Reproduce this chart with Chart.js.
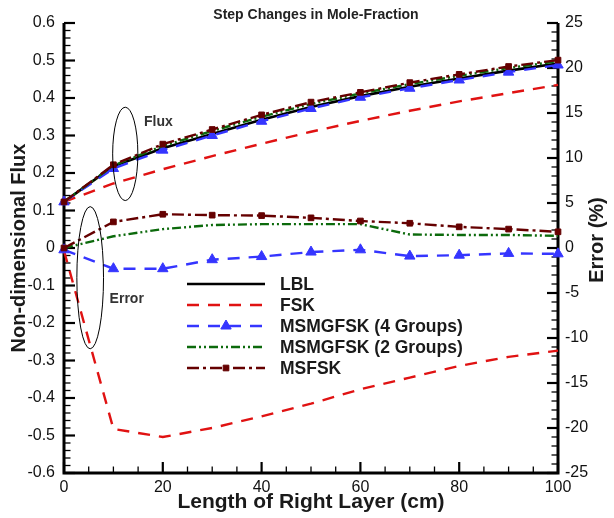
<!DOCTYPE html>
<html>
<head>
<meta charset="utf-8">
<script src="https://cdn.jsdelivr.net/npm/chart.js@4.4.0/dist/chart.umd.min.js"></script>
<style>
html, body { margin: 0; padding: 0; background: #fff; }
canvas { display: block; }
</style>
</head>
<body>
<canvas id="chart" width="614" height="518"></canvas>
<script>
// Data
const lengthCm = [0, 10, 20, 30, 40, 50, 60, 70, 80, 90, 100];

// Non-dimensional flux (left axis)
const fluxLBL    = [0.123, 0.218, 0.266, 0.304, 0.342, 0.376, 0.405, 0.430, 0.452, 0.473, 0.492];
const fluxFSK    = [0.123, 0.172, 0.210, 0.245, 0.278, 0.310, 0.339, 0.366, 0.391, 0.413, 0.435];
const fluxMSMG4  = [0.123, 0.212, 0.261, 0.300, 0.338, 0.372, 0.402, 0.426, 0.448, 0.469, 0.488];
const fluxMSMG2  = [0.123, 0.220, 0.272, 0.312, 0.350, 0.384, 0.412, 0.437, 0.459, 0.480, 0.498];
const fluxMSFSK  = [0.123, 0.222, 0.277, 0.316, 0.355, 0.389, 0.415, 0.441, 0.463, 0.484, 0.501];

// Error in % (right axis)
const errFSK   = [-0.3, -20.1, -21.0, -20.0, -18.7, -17.3, -15.7, -14.4, -13.1, -12.1, -11.4];
const errMSMG4 = [-0.2, -2.3, -2.3, -1.3, -0.95, -0.45, -0.2, -0.9, -0.8, -0.6, -0.65];
const errMSMG2 = [0.0, 1.3, 2.1, 2.55, 2.65, 2.65, 2.65, 1.5, 1.45, 1.45, 1.35];
const errMSFSK = [0.0, 2.9, 3.75, 3.65, 3.6, 3.35, 3.0, 2.75, 2.35, 2.1, 1.8];

const seriesNames = ['LBL', 'FSK', 'MSMGFSK (4 Groups)', 'MSMGFSK (2 Groups)', 'MSFSK'];

const FONT = "'Liberation Sans', Arial, Helvetica, sans-serif";

const styles = {
    'LBL':                { color: '#000000', dash: [],               width: 2.6 },
    'FSK':                { color: '#e01212', dash: [12, 9],          width: 2.4 },
    'MSMGFSK (4 Groups)': { color: '#3535ff', dash: [12, 9],          width: 2.4, point: 'triangle', radius: 6 },
    'MSMGFSK (2 Groups)': { color: '#0c6a0c', dash: [9, 3, 2, 3, 2, 3], width: 2.4 },
    'MSFSK':              { color: '#650000', dash: [12, 4, 3, 4],    width: 2.4, point: 'rect', radius: 4 }
};

function makeSet(name, values, axis, inLegend) {
    const st = styles[name];
    return {
        label: name,
        data: lengthCm.map((x, i) => ({ x: x, y: values[i] })),
        yAxisID: axis,
        borderColor: st.color,
        backgroundColor: st.color,
        borderWidth: st.width,
        borderDash: st.dash,
        tension: 0,
        fill: false,
        clip: false,
        pointStyle: st.point || 'circle',
        pointRadius: st.point ? st.radius : 0,
        pointBackgroundColor: st.color,
        pointBorderColor: st.color,
        pointBorderWidth: 1,
        inLegend: inLegend
    };
}

const datasets = [
    makeSet('MSFSK', fluxMSFSK, 'y', true),
    makeSet('MSMGFSK (2 Groups)', fluxMSMG2, 'y', true),
    makeSet('MSMGFSK (4 Groups)', fluxMSMG4, 'y', true),
    makeSet('FSK', fluxFSK, 'y', true),
    makeSet('LBL', fluxLBL, 'y', true),
    makeSet('MSFSK', errMSFSK, 'y1', false),
    makeSet('MSMGFSK (2 Groups)', errMSMG2, 'y1', false),
    makeSet('MSMGFSK (4 Groups)', errMSMG4, 'y1', false),
    makeSet('FSK', errFSK, 'y1', false)
];

// Inward tick marks and the three axis lines (Tecplot look)
const axisFrame = {
    id: 'axisFrame',
    beforeDatasetsDraw(chart) {
        const { ctx, chartArea: a, scales } = chart;
        ctx.save();
        ctx.strokeStyle = '#000';
        ctx.setLineDash([]);

        const ticks = (scale, minor, perMajor, draw) => {
            const n = Math.round((scale.max - scale.min) / minor);
            for (let i = 0; i <= n; i++) {
                const p = scale.getPixelForValue(scale.min + i * minor);
                const major = i % perMajor === 0;
                ctx.lineWidth = major ? 2.2 : 1.3;
                ctx.beginPath();
                draw(p, major ? 11 : 6.5);
                ctx.stroke();
            }
        };
        ticks(scales.y, 0.02, 5, (p, len) => { ctx.moveTo(a.left, p); ctx.lineTo(a.left + len, p); });
        ticks(scales.y1, 1, 5, (p, len) => { ctx.moveTo(a.right, p); ctx.lineTo(a.right - len, p); });
        ticks(scales.x, 5, 4, (p, len) => { ctx.moveTo(p, a.bottom); ctx.lineTo(p, a.bottom - len); });

        ctx.lineWidth = 3;
        ctx.beginPath();
        ctx.moveTo(a.left, a.top);
        ctx.lineTo(a.left, a.bottom);
        ctx.lineTo(a.right, a.bottom);
        ctx.lineTo(a.right, a.top);
        ctx.stroke();
        ctx.restore();
    }
};

// Ellipses with "Flux" / "Error" notes, legend, title, right axis title
const notes = [
    { text: 'Flux',  axis: 'y',  cx: 12.4, cy: 0.251, rx: 2.55, ry: 0.1245, tx: 19.1, ty: 0.336 },
    { text: 'Error', axis: 'y1', cx: 5.3,  cy: -3.3,  rx: 2.7,  ry: 7.9,    tx: 12.7, ty: -5.65 }
];

const overlay = {
    id: 'overlay',
    afterDatasetsDraw(chart) {
        const { ctx, scales } = chart;
        const sx = scales.x;
        ctx.save();

        notes.forEach(n => {
            const sy = scales[n.axis];
            const cx = sx.getPixelForValue(n.cx);
            const cy = sy.getPixelForValue(n.cy);
            const rx = sx.getPixelForValue(n.cx + n.rx) - cx;
            const ry = cy - sy.getPixelForValue(n.cy + n.ry);
            ctx.setLineDash([]);
            ctx.lineWidth = 1;
            ctx.strokeStyle = '#000';
            ctx.beginPath();
            ctx.ellipse(cx, cy, rx, ry, 0, 0, Math.PI * 2);
            ctx.stroke();
            ctx.fillStyle = '#333';
            ctx.font = 'bold 14px ' + FONT;
            ctx.textAlign = 'center';
            ctx.textBaseline = 'middle';
            ctx.fillText(n.text, sx.getPixelForValue(n.tx), sy.getPixelForValue(n.ty));
        });

        // legend
        const lx0 = 187, lx1 = 265, ltx = 280, ly0 = 284, ldy = 21;
        const sets = chart.data.datasets.filter(d => d.inLegend);
        seriesNames.forEach((name, i) => {
            const d = sets.find(s => s.label === name);
            const y = ly0 + i * ldy;
            ctx.strokeStyle = d.borderColor;
            ctx.lineWidth = d.borderWidth;
            ctx.setLineDash(d.borderDash);
            ctx.beginPath();
            ctx.moveTo(lx0, y);
            ctx.lineTo(lx1, y);
            ctx.stroke();
            ctx.setLineDash([]);
            if (d.pointRadius > 0) {
                ctx.fillStyle = d.borderColor;
                ctx.lineWidth = 1;
                Chart.helpers.drawPoint(ctx, { pointStyle: d.pointStyle, radius: d.pointRadius, borderWidth: 1, rotation: 0 }, (lx0 + lx1) / 2, y);
            }
            ctx.fillStyle = '#1a1a1a';
            ctx.font = 'bold 17.5px ' + FONT;
            ctx.textAlign = 'left';
            ctx.textBaseline = 'middle';
            ctx.fillText(name, ltx, y + 1);
        });

        // chart title
        ctx.fillStyle = '#222';
        ctx.font = 'bold 14px ' + FONT;
        ctx.textAlign = 'center';
        ctx.textBaseline = 'middle';
        ctx.fillText('Step Changes in Mole-Fraction', 316, 15);

        // right axis title, reading bottom to top
        ctx.translate(597, 240);
        ctx.rotate(-Math.PI / 2);
        ctx.fillStyle = '#1a1a1a';
        ctx.font = 'bold 20px ' + FONT;
        ctx.fillText('Error (%)', 0, 0);
        ctx.restore();
    }
};

const tickFont = { family: FONT, size: 16 };
const noGrid = { display: false, drawTicks: false };

new Chart(document.getElementById('chart'), {
    type: 'line',
    data: { datasets: datasets },
    options: {
        responsive: false,
        animation: false,
        events: [],
        layout: { padding: { top: 23, left: 0, right: 0, bottom: 0 } },
        plugins: {
            legend: { display: false },
            tooltip: { enabled: false }
        },
        scales: {
            x: {
                type: 'linear',
                position: 'bottom',
                min: 0,
                max: 100,
                grid: noGrid,
                border: { display: false },
                ticks: { stepSize: 20, padding: 5, font: tickFont, color: '#111', maxRotation: 0, autoSkip: false },
                title: {
                    display: true,
                    text: 'Length of Right Layer (cm)',
                    color: '#1a1a1a',
                    font: { family: FONT, size: 21, weight: 'bold' },
                    padding: { top: 0, bottom: 3 }
                },
                afterFit: s => { s.height = 45; }
            },
            y: {
                type: 'linear',
                position: 'left',
                min: -0.6,
                max: 0.6,
                grid: noGrid,
                border: { display: false },
                ticks: {
                    stepSize: 0.1,
                    padding: 9,
                    font: tickFont,
                    color: '#111',
                    callback: v => (Math.abs(v) < 1e-9 ? '0' : String(+v.toFixed(1)))
                },
                title: {
                    display: true,
                    text: 'Non-dimensional Flux',
                    color: '#1a1a1a',
                    font: { family: FONT, size: 20, weight: 'bold' },
                    padding: { top: 7, bottom: 0 }
                },
                afterFit: s => { s.width = 64; }
            },
            y1: {
                type: 'linear',
                position: 'right',
                min: -25,
                max: 25,
                grid: noGrid,
                border: { display: false },
                ticks: { stepSize: 5, padding: 7, font: tickFont, color: '#111' },
                afterFit: s => { s.width = 56; }
            }
        }
    },
    plugins: [axisFrame, overlay]
});
</script>
</body>
</html>
